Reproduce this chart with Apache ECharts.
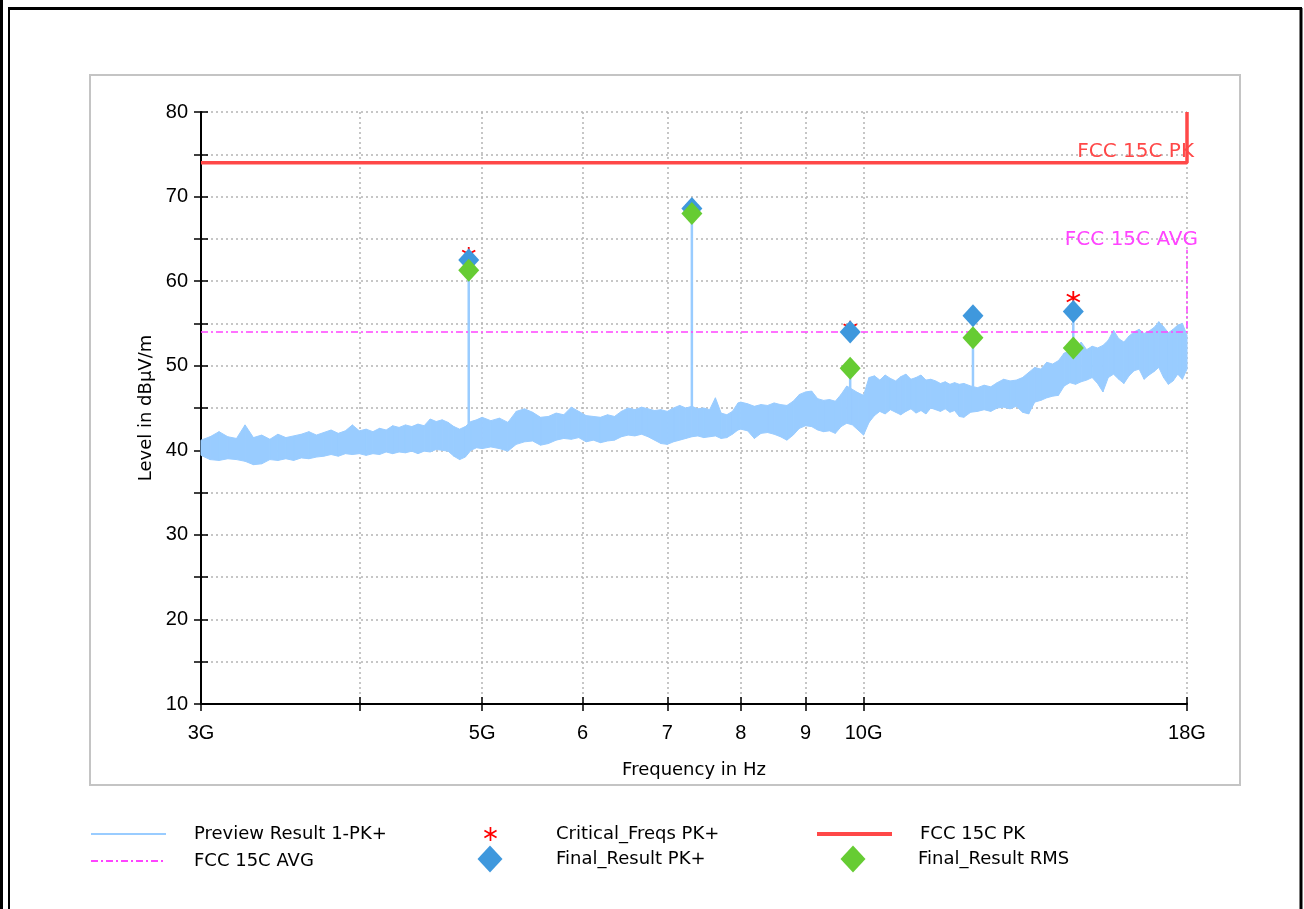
<!DOCTYPE html>
<html>
<head>
<meta charset="utf-8">
<title>Preview Result 1-PK+</title>
<script src="https://cdn.jsdelivr.net/npm/echarts@6/dist/echarts.min.js"></script>
<style>
  html, body { margin: 0; padding: 0; background: #fff; }
  #chart { width: 1304px; height: 909px; }
</style>
</head>
<body>
<div id="chart"></div>
<script>
// frequencies in GHz, levels in dBµV/m
const traceFreq = [
  3.00, 3.05, 3.10, 3.15, 3.20, 3.25, 3.30, 3.35, 3.40, 3.45,
  3.50, 3.55, 3.60, 3.65, 3.70, 3.75, 3.80, 3.85, 3.90, 3.95,
  4.00, 4.05, 4.10, 4.15, 4.20, 4.25, 4.30, 4.35, 4.40, 4.45,
  4.50, 4.55, 4.60, 4.65, 4.70, 4.75, 4.80, 4.85, 4.90, 4.95,
  5.00, 5.08, 5.16, 5.24, 5.32, 5.40, 5.48, 5.56, 5.64, 5.72,
  5.80, 5.88, 5.96, 6.04, 6.12, 6.20, 6.28, 6.36, 6.44, 6.52,
  6.60, 6.68, 6.76, 6.84, 6.92, 7.00, 7.08, 7.16, 7.24, 7.32,
  7.40, 7.48, 7.56, 7.64, 7.72, 7.80, 7.88, 7.96,
  8.0, 8.1, 8.2, 8.3, 8.4, 8.5, 8.6, 8.7, 8.8, 8.9,
  9.0, 9.1, 9.2, 9.3, 9.4, 9.5, 9.6, 9.7, 9.8, 9.9,
  10.0, 10.1, 10.2, 10.3, 10.4, 10.5, 10.6, 10.7, 10.8, 10.9,
  11.0, 11.1, 11.2, 11.3, 11.4, 11.5, 11.6, 11.7, 11.8, 11.9,
  12.0, 12.15, 12.3, 12.45, 12.6, 12.75, 12.9, 13.05, 13.2, 13.35,
  13.5, 13.65, 13.8, 13.95, 14.1, 14.25, 14.4, 14.55, 14.7, 14.85,
  15.0, 15.15, 15.3, 15.45, 15.6, 15.75, 15.9, 16.05, 16.2, 16.35,
  16.5, 16.65, 16.8, 16.95, 17.1, 17.25, 17.4, 17.55, 17.7, 17.85, 18.0
];
const traceHi = [
  41.2, 41.6, 42.2, 41.6, 41.4, 43.0, 41.5, 41.8, 41.3, 41.9,
  41.5, 41.7, 41.9, 42.2, 41.8, 42.1, 42.4, 42.0, 42.3, 43.0,
  42.3, 42.5, 42.2, 42.6, 42.4, 42.9, 42.7, 43.0, 42.8, 43.1,
  42.9, 43.7, 43.4, 43.6, 43.3, 42.8, 42.5, 42.8, 43.4, 43.6,
  43.9, 43.5, 43.8, 43.3, 44.6, 44.9, 44.5, 43.9, 44.0, 44.4,
  44.2, 45.1, 44.6, 44.1, 44.0, 43.9, 44.2, 44.0, 44.6, 45.0,
  44.8, 45.1, 44.9, 44.7, 44.8, 44.6, 45.0, 45.3, 45.0, 45.2,
  44.9, 45.0, 44.8, 46.2, 44.4, 44.2, 44.6, 45.6,
  45.7, 45.5, 45.2, 45.4, 45.3, 45.6, 45.4, 45.3, 45.8, 46.6,
  46.9, 47.0, 46.1, 45.9, 46.0, 45.8, 46.6, 47.6, 47.2, 46.8,
  46.5, 48.6, 48.8, 48.3, 48.9, 48.5, 48.2, 48.7, 49.0, 48.4,
  48.6, 48.9, 48.3, 48.4, 48.2, 47.9, 48.1, 47.8, 48.0, 47.8,
  47.9, 47.6, 47.4, 47.7, 47.5, 48.0, 48.4, 48.2, 48.3, 48.6,
  49.2, 49.8, 49.6, 50.4, 50.2, 50.6, 51.5, 51.7, 51.4, 52.8,
  51.9, 52.3, 52.1, 52.4, 53.0, 54.2, 53.2, 52.8, 53.5, 54.0,
  54.3, 53.8, 54.1, 54.5, 55.2, 54.6, 53.9, 54.3, 54.8, 55.0, 53.6
];
const traceLo = [
  39.4, 38.9, 38.8, 39.0, 38.9, 38.7, 38.3, 38.4, 38.9, 38.8,
  39.0, 38.8, 39.1, 39.0, 39.2, 39.3, 39.5, 39.3, 39.6, 39.5,
  39.6, 39.4, 39.6, 39.5, 39.8, 39.6, 39.8, 39.7, 39.9, 39.6,
  39.9, 39.8, 40.1, 40.0, 39.9, 39.3, 38.9, 39.2, 40.0, 40.3,
  40.2, 40.4, 40.2, 39.9, 40.7, 41.0, 41.1, 40.6, 40.8, 41.2,
  41.4, 41.3, 41.5, 41.0, 41.2, 40.9, 41.1, 41.2, 41.6, 41.8,
  41.7, 41.9, 41.6, 41.2, 40.8, 40.7, 41.0, 41.2, 41.4, 41.6,
  41.7, 41.5, 41.6, 41.7, 41.4, 41.5, 41.9, 42.4,
  42.5, 42.3, 41.4, 42.0, 42.1, 41.9, 41.6, 41.2, 41.8, 42.6,
  42.9, 42.8, 42.4, 42.2, 42.3, 42.0, 42.8, 43.2, 43.0, 42.4,
  41.8, 43.3, 44.1, 44.6, 44.3, 44.8, 44.5, 44.2, 44.6, 44.9,
  44.4, 44.7, 44.3, 45.0, 44.8, 44.6, 44.9, 44.5, 44.7, 44.0,
  43.9, 44.5, 44.6, 44.8, 44.6, 45.0, 45.1, 44.9, 45.2, 44.5,
  44.3, 45.7, 45.9, 46.2, 46.4, 46.5, 47.6, 48.0, 47.8, 48.1,
  48.3, 48.6, 47.9, 46.9, 48.6, 49.0, 48.4, 47.9, 48.8, 49.4,
  49.6, 48.4, 48.9, 49.3, 49.8, 48.6, 47.8, 48.2, 49.0, 48.4, 49.6
];
const stemFreq = [4.88, 7.32, 9.76, 12.2, 14.64];
const stemBase = [42.5, 45.0, 47.0, 47.5, 51.5];
const stemTop = [61.3, 68.0, 49.7, 53.3, 56.4];

const critFreq = [4.88, 7.32, 9.76, 14.64];
const critLevel = [63.2, 68.6, 54.5, 58.0];

const finalFreq = [4.88, 7.32, 9.76, 12.2, 14.64];
const finalPk = [62.5, 68.6, 54.0, 55.9, 56.4];
const finalRms = [61.3, 68.0, 49.7, 53.3, 52.1];

const pkLimitFreq = [3, 18, 18];
const pkLimitLevel = [74, 74, 80];
const avgLimitFreq = [3, 18, 18];
const avgLimitLevel = [54, 54, 63.7];

const xTickValues = [3, 4, 5, 6, 7, 8, 9, 10, 18];
const xLabelValues = [3, 5, 6, 7, 8, 9, 10, 18];
const xLabelText = { 3: '3G', 5: '5G', 6: '6', 7: '7', 8: '8', 9: '9', 10: '10G', 18: '18G' };

const TRACE = '#99ccff';
const PK_RED = '#ff4848';
const AVG_MAG = '#ff44ff';
const PK_BLUE = '#3f98dd';
const RMS_GREEN = '#66cc33';
const GRIDC = '#b4b4b4';
const TXT = 'DejaVu Sans';
const NUM = 'Liberation Sans';

const starPath = 'path://M-1.2,-10L1.2,-10L1.2,10L-1.2,10Z' +
  'M-9.26,-3.96L-8.06,-6.04L9.26,3.96L8.06,6.04Z' +
  'M8.06,-6.04L9.26,-3.96L-8.06,6.04L-9.26,3.96Z';

const chart = echarts.init(document.getElementById('chart'));

const pairs = (xs, ys) => xs.map((x, i) => [x, ys[i]]);

// the dense preview trace, drawn as a band between its lower and upper envelope
function renderBand(params, api) {
    const i = params.dataIndex;
    if (i >= traceFreq.length - 1) return null;
    const pts = [
        api.coord([traceFreq[i], traceLo[i]]),
        api.coord([traceFreq[i], traceHi[i]]),
        api.coord([traceFreq[i + 1], traceHi[i + 1]]),
        api.coord([traceFreq[i + 1], traceLo[i + 1]])
    ];
    return {
        type: 'polygon',
        shape: { points: pts },
        style: { fill: TRACE, stroke: TRACE, lineWidth: 1 }
    };
}

const stemSeries = stemFreq.map((f, i) => ({
    type: 'line',
    name: 'Preview Result 1-PK+',
    data: [[f, stemBase[i]], [f, stemTop[i]]],
    symbol: 'none',
    lineStyle: { color: TRACE, width: 2.5 },
    itemStyle: { color: TRACE },
    z: 2,
    silent: true
}));

function legendAt(name, left, top, w, h, pad, extra) {
    return Object.assign({
        data: [name],
        left: left,
        top: top,
        padding: 0,
        itemWidth: w,
        itemHeight: h,
        selectedMode: false,
        textStyle: { fontFamily: TXT, fontSize: 18, color: '#000', padding: [0, 0, 0, pad] }
    }, extra || {});
}

const option = {
    animation: false,
    backgroundColor: '#fff',
    grid: { left: 201, right: 117, top: 112, bottom: 205, containLabel: false, outerBoundsMode: 'none' },
    xAxis: [{
        type: 'log',
        logBase: 10,
        min: 3,
        max: 18,
        position: 'bottom',
        name: 'Frequency in Hz',
        nameLocation: 'middle',
        nameGap: 57,
        nameTextStyle: { fontFamily: TXT, fontSize: 18, color: '#000' },
        axisLine: { show: true, onZero: false, lineStyle: { color: '#000', width: 2 } },
        axisTick: { show: true, inside: false, length: 7, customValues: xTickValues, lineStyle: { color: '#000', width: 1.5 } },
        axisLabel: {
            customValues: xLabelValues,
            margin: 19,
            fontFamily: NUM,
            fontSize: 20,
            color: '#000',
            formatter: function (v) { return xLabelText[Math.round(v)] || ''; }
        },
        splitLine: { show: true, lineStyle: { color: GRIDC, width: 1.5, type: [2, 3] } },
        minorTick: { show: false },
        minorSplitLine: { show: false }
    }, {
        type: 'log',
        logBase: 10,
        min: 3,
        max: 18,
        position: 'bottom',
        axisLine: { show: false },
        axisTick: { show: true, inside: true, length: 7, customValues: xTickValues, lineStyle: { color: '#000', width: 1.5 } },
        axisLabel: { show: false },
        splitLine: { show: false }
    }],
    yAxis: [{
        type: 'value',
        min: 10,
        max: 80,
        interval: 5,
        position: 'left',
        name: 'Level in dBµV/m',
        nameLocation: 'middle',
        nameGap: 46,
        nameTextStyle: { fontFamily: TXT, fontSize: 18, color: '#000' },
        axisLine: { show: true, onZero: false, lineStyle: { color: '#000', width: 2 } },
        axisTick: { show: true, inside: false, length: 7, lineStyle: { color: '#000', width: 1.5 } },
        axisLabel: {
            margin: 13,
            fontFamily: NUM,
            fontSize: 20,
            color: '#000',
            formatter: function (v) { return v % 10 === 0 ? String(v) : ''; }
        },
        splitLine: { show: true, lineStyle: { color: GRIDC, width: 1.5, type: [2, 3] } }
    }, {
        type: 'value',
        min: 10,
        max: 80,
        interval: 5,
        position: 'left',
        axisLine: { show: false },
        axisTick: { show: true, inside: true, length: 7, lineStyle: { color: '#000', width: 1.5 } },
        axisLabel: { show: false },
        splitLine: { show: false }
    }],
    legend: [
        legendAt('Preview Result 1-PK+', 90, 825, 75, 14, 23, { itemStyle: { opacity: 0 }, lineStyle: { width: 2 } }),
        legendAt('Critical_Freqs PK+', 484, 825, 13, 14, 54, { itemStyle: { opacity: 1 } }),
        legendAt('FCC 15C PK', 815, 825, 75, 14, 23, { itemStyle: { opacity: 0 }, lineStyle: { width: 4 } }),
        legendAt('FCC 15C AVG', 90, 852, 75, 14, 23, { itemStyle: { opacity: 0 } }),
        legendAt('Final_Result PK+', 477.5, 845.5, 25, 27, 48.5, { itemStyle: { opacity: 1 } }),
        legendAt('Final_Result RMS', 840.5, 845.5, 25, 27, 47.5, { itemStyle: { opacity: 1 } })
    ],
    graphic: [
        { type: 'rect', shape: { x: 90, y: 75, width: 1150, height: 710 }, style: { fill: 'none', stroke: '#c4c4c4', lineWidth: 2 }, silent: true, z: -10 },
        { type: 'line', shape: { x1: 8, y1: 8.5, x2: 1302, y2: 8.5 }, style: { stroke: '#000', lineWidth: 3 }, silent: true },
        { type: 'line', shape: { x1: 1.5, y1: 0, x2: 1.5, y2: 909 }, style: { stroke: '#000', lineWidth: 3 }, silent: true },
        { type: 'line', shape: { x1: 9, y1: 8, x2: 9, y2: 909 }, style: { stroke: '#000', lineWidth: 2 }, silent: true },
        { type: 'line', shape: { x1: 1301, y1: 8, x2: 1301, y2: 909 }, style: { stroke: '#000', lineWidth: 3 }, silent: true }
    ],
    series: stemSeries.concat([{
        type: 'custom',
        name: 'Preview band',
        coordinateSystem: 'cartesian2d',
        data: traceFreq.map((f, i) => [f, traceLo[i], traceHi[i]]),
        encode: { x: 0, y: [1, 2] },
        renderItem: renderBand,
        z: 2,
        silent: true
    }, {
        type: 'line',
        name: 'FCC 15C AVG',
        data: pairs(avgLimitFreq, avgLimitLevel),
        symbol: 'none',
        clip: false,
        lineStyle: { color: AVG_MAG, width: 1.5, type: [7, 3, 2, 3] },
        itemStyle: { color: AVG_MAG },
        z: 3
    }, {
        type: 'line',
        name: 'FCC 15C PK',
        data: pairs(pkLimitFreq, pkLimitLevel),
        symbol: 'none',
        clip: false,
        lineStyle: { color: PK_RED, width: 3.5 },
        itemStyle: { color: PK_RED },
        z: 3
    }, {
        type: 'scatter',
        name: 'limit names',
        symbolSize: 0,
        silent: true,
        itemStyle: { opacity: 1 },
        z: 3,
        data: [{
            value: [pkLimitFreq[1], pkLimitLevel[1]],
            label: { show: true, formatter: 'FCC 15C PK', position: 'top', align: 'right', distance: 1, offset: [7, 0],
                     color: PK_RED, opacity: 1, fontFamily: TXT, fontSize: 20 }
        }, {
            value: [avgLimitFreq[2], avgLimitLevel[2]],
            label: { show: true, formatter: 'FCC 15C AVG', position: 'top', align: 'right', distance: 0, offset: [11, 0],
                     color: AVG_MAG, opacity: 1, fontFamily: TXT, fontSize: 20 }
        }]
    }, {
        type: 'scatter',
        name: 'Critical_Freqs PK+',
        data: pairs(critFreq, critLevel),
        symbol: starPath,
        symbolSize: 14,
        itemStyle: { color: '#ff0000', opacity: 1 },
        z: 4
    }, {
        type: 'scatter',
        name: 'Final_Result PK+',
        data: pairs(finalFreq, finalPk),
        symbol: 'diamond',
        symbolSize: [21, 23],
        itemStyle: { color: PK_BLUE, opacity: 1 },
        z: 5
    }, {
        type: 'scatter',
        name: 'Final_Result RMS',
        data: pairs(finalFreq, finalRms),
        symbol: 'diamond',
        symbolSize: [21, 23],
        itemStyle: { color: RMS_GREEN, opacity: 1 },
        z: 6
    }])
};

chart.setOption(option);
</script>
</body>
</html>
